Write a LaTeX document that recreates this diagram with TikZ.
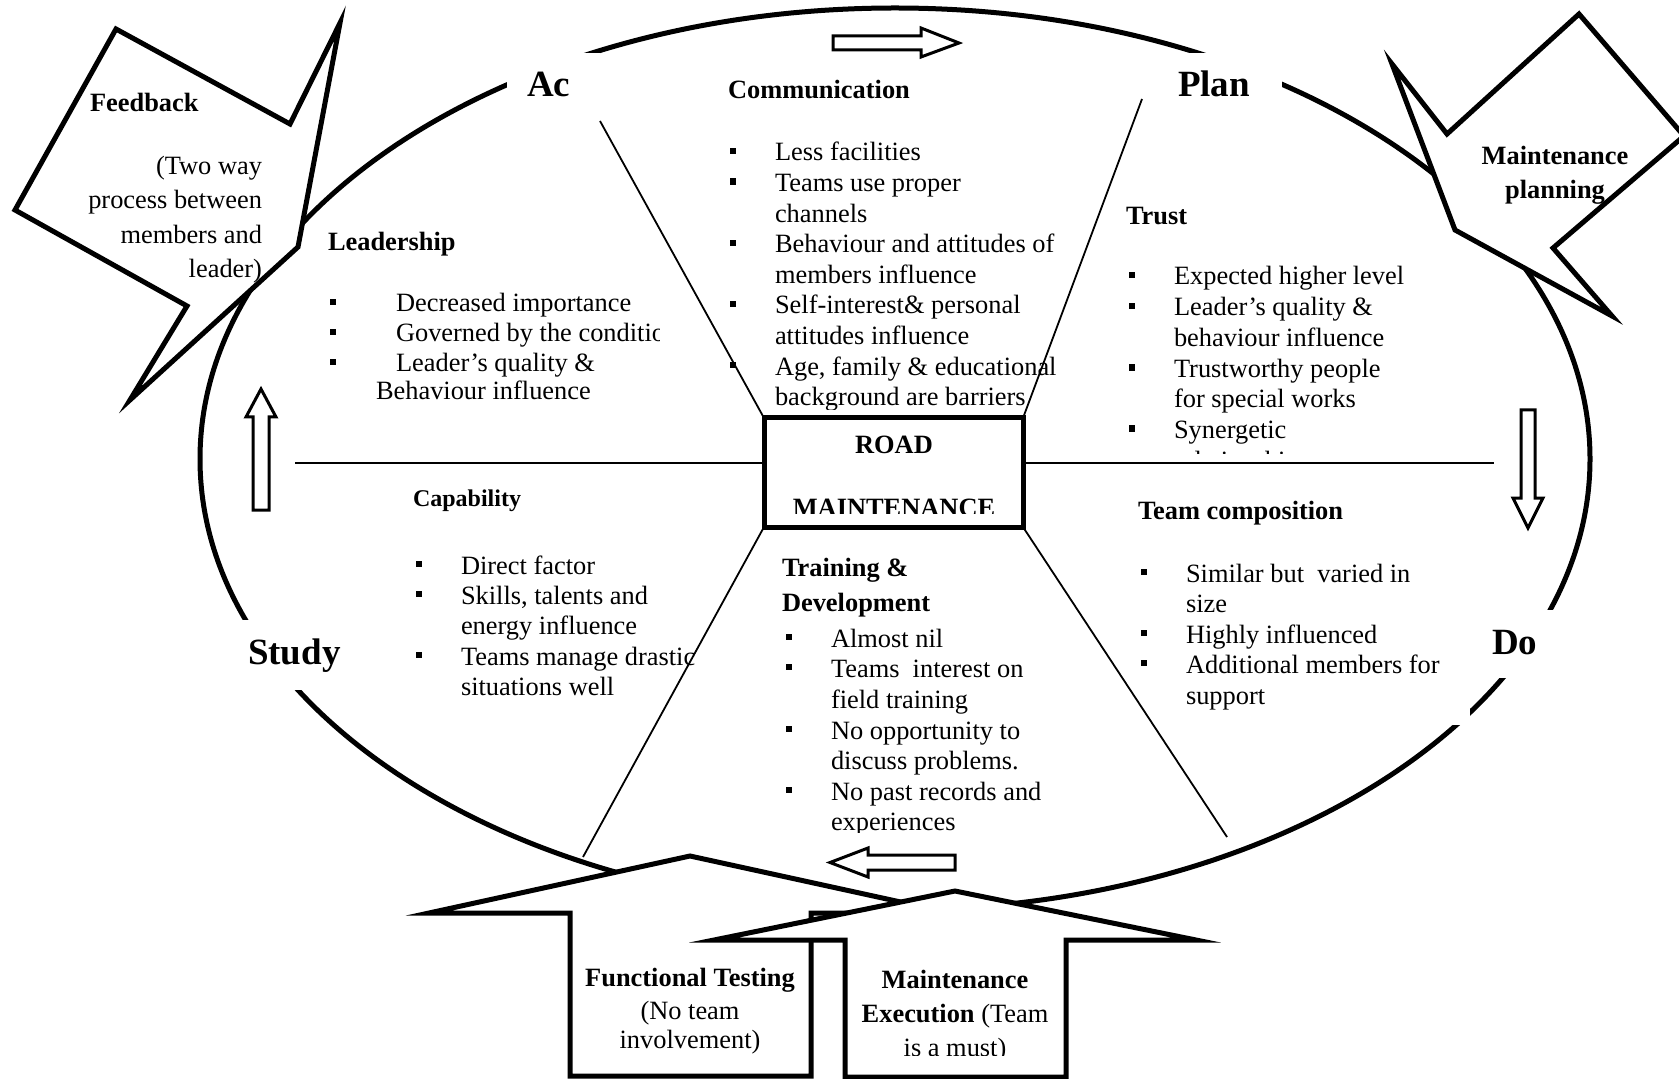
\documentclass[tikz,border=0pt]{standalone}
\usepackage{fontspec}
\setmainfont{Liberation Serif}
\newcommand\bodyf{\fontsize{13.2}{15.3}\selectfont}
\newcommand\bigf{\fontsize{18.5}{22}\selectfont\bfseries}
\newcounter{tn}
\newcommand\txline[4][]{\stepcounter{tn}\node[txt,#1] (tx\arabic{tn}) at (#2,#3) {#4};}
\newcommand\bulsq[2]{\stepcounter{tn}\node[bul] (bu\arabic{tn}) at (#1,#2) {};}
\newcommand\bitem[4]{\bulsq{#1}{#3-10}\txline{#2}{#3}{#4}}
\begin{document}
\begin{tikzpicture}[x=0.5pt,y=-0.5pt,
  txt/.style={anchor=base west, inner sep=0pt, outer sep=0pt, font=\bodyf},
  bul/.style={fill=black, draw=none, inner sep=0pt, minimum size=3.2pt},
  thk/.style={line width=2.5pt},
  thn/.style={line width=0.9pt},
  dbl/.style={line width=1.5pt, fill=white}]
\useasboundingbox (0,0) rectangle (1679,1079);
\fill[white] (0,0) rectangle (1679,1079);
% PDSA ellipse
\draw[thk] (895,459) ellipse [x radius=347.5pt, y radius=225.5pt];
% gaps in the ellipse behind the labels
\fill[white] (507,53) rectangle (600,112);
\fill[white] (1160,53) rectangle (1282,108);
\fill[white] (222,620) rectangle (345,690);
\fill[white] (1485,610) rectangle (1575,678);
\fill[white] (1445,700) rectangle (1470,725);
% centre box and dividers
\node[draw, thk, minimum width=129.5pt, minimum height=54.5pt, inner sep=0pt, outer sep=0pt] (road) at (893.5,472.5) {};
\coordinate (ul) at (600,121);
\coordinate (ur) at (1142,99);
\coordinate (ll) at (583,857);
\coordinate (lr) at (1227,837);
\coordinate (hl) at (295,463);
\coordinate (hr) at (1494,463);
\draw[thn] (ul) -- (road.north west);
\draw[thn] (ur) -- (road.north east);
\draw[thn] (road.south west) -- (ll);
\draw[thn] (road.south east) -- (lr);
\draw[thn] (hl) -- (hl -| road.west);
\draw[thn] (hr -| road.east) -- (hr);
% callouts
\draw[thk, fill=white] (116,29) -- (290,124) -- (340,23) -- (298,247) -- (130,400) -- (187,306) -- (15,210) -- cycle;
\draw[thk, fill=white] (1579,14) -- (1684,136) -- (1553,248) -- (1612,316) -- (1455,230) -- (1392,64) -- (1447,134) -- cycle;
% bottom block arrows
\draw[thk, fill=white] (690,856) -- (951,913) -- (811,913) -- (811,1076) -- (570,1076) -- (570,913) -- (429,913) -- cycle;
\draw[thk, fill=white] (955,891) -- (1196,940) -- (1066,940) -- (1066,1077) -- (845,1077) -- (845,940) -- (714,940) -- cycle;
% hollow cycle arrows
\draw[dbl] (833,36) -- (921,36) -- (921,28) -- (959,43) -- (921,57) -- (921,50) -- (833,50) -- cycle;
\draw[dbl] (955,855) -- (868,855) -- (868,848) -- (830,862.5) -- (868,877) -- (868,870) -- (955,870) -- cycle;
\draw[dbl] (253,510) -- (253,417) -- (246,417) -- (261,389) -- (276,417) -- (269,417) -- (269,510) -- cycle;
\draw[dbl] (1521,410) -- (1535,410) -- (1535,498) -- (1543,498) -- (1528,528) -- (1513,498) -- (1521,498) -- cycle;
% big labels
\txline[font=\bigf]{527}{97}{Ac}
\txline[font=\bigf]{1178}{97}{Plan}
\txline[font=\bigf]{248}{664}{Study}
\txline[font=\bigf]{1492}{654}{Do}
% feedback
\txline{90}{112}{\bfseries Feedback}
\txline[anchor=base east]{262}{175}{(Two way}
\txline[anchor=base east]{262}{209}{process between}
\txline[anchor=base east]{262}{244}{members and}
\txline[anchor=base east]{262}{278}{leader)}
% maintenance planning
\txline[anchor=base]{1555}{165}{\bfseries Maintenance}
\txline[anchor=base]{1555}{199}{\bfseries planning}
% communication
\txline{728}{99}{\bfseries Communication}
\begin{scope}
\clip (700,110) rectangle (1110,409.5);
\bitem{733}{775}{161}{Less facilities}
\bitem{733}{775}{191.6}{Teams use proper}
\txline{775}{222.2}{channels}
\bitem{733}{775}{252.8}{Behaviour and attitudes of}
\txline{775}{283.4}{members influence}
\bitem{733}{775}{314}{Self-interest\& personal}
\txline{775}{344.6}{attitudes influence}
\bitem{733}{775}{375.2}{Age, family \& educational}
\txline{775}{405.8}{background are barriers}
\end{scope}
% leadership
\txline{328}{251}{\bfseries Leadership}
\begin{scope}
\clip (300,280) rectangle (659,420);
\bitem{333}{396}{312}{Decreased importance}
\bitem{333}{396}{342}{Governed by the conditions}
\bitem{333}{396}{372}{Leader's quality \&}
\txline{376}{400}{Behaviour influence}
\end{scope}
% trust
\txline{1126}{225}{\bfseries Trust}
\begin{scope}
\clip (1100,250) rectangle (1480,454);
\bitem{1132}{1174}{285}{Expected higher level}
\bitem{1132}{1174}{316}{Leader's quality \&}
\txline{1174}{347}{behaviour influence}
\bitem{1132}{1174}{377.5}{Trustworthy people}
\txline{1174}{408}{for special works}
\bitem{1132}{1174}{438.5}{Synergetic}
\txline{1174}{469}{relationship}
\end{scope}
% capability
\txline[font=\fontsize{12}{14}\selectfont\bfseries]{413}{506}{Capability}
\bitem{419}{461}{574}{Direct factor}
\bitem{419}{461}{604}{Skills, talents and}
\txline{461}{634}{energy influence}
\bitem{419}{461}{665}{Teams manage drastic}
\txline{461}{695}{situations well}
% training
\txline{782}{576}{\bfseries Training \&}
\txline{782}{611}{\bfseries Development}
\begin{scope}
\clip (770,620) rectangle (1100,832);
\bitem{789}{831}{647}{Almost nil}
\bitem{789}{831}{677}{Teams\ \ interest on}
\txline{831}{708}{field training}
\bitem{789}{831}{739}{No opportunity to}
\txline{831}{769}{discuss problems.}
\bitem{789}{831}{800}{No past records and}
\txline{831}{830}{experiences}
\end{scope}
% team composition
\txline{1138}{519}{\bfseries Team composition}
\bitem{1144}{1186}{582}{Similar but\ \ varied in}
\txline{1186}{612}{size}
\bitem{1144}{1186}{643}{Highly influenced}
\bitem{1144}{1186}{673}{Additional members for}
\txline{1186}{704}{support}
% road maintenance
\txline[anchor=base]{894}{453}{\bfseries ROAD}
\begin{scope}
\clip (770,460) rectangle (1018,513);
\txline[anchor=base]{894}{516}{\bfseries MAINTENANCE}
\end{scope}
% bottom arrows text
\txline[anchor=base]{690}{986}{\bfseries Functional Testing}
\txline[anchor=base]{690}{1019}{(No team}
\txline[anchor=base]{690}{1048}{involvement)}
\txline[anchor=base]{955}{988}{\bfseries Maintenance}
\txline[anchor=base]{955}{1022}{\textbf{Execution} (Team}
\begin{scope}
\clip (850,1030) rectangle (1060,1055);
\txline[anchor=base]{955}{1056}{is a must)}
\end{scope}
\end{tikzpicture}
\end{document}
